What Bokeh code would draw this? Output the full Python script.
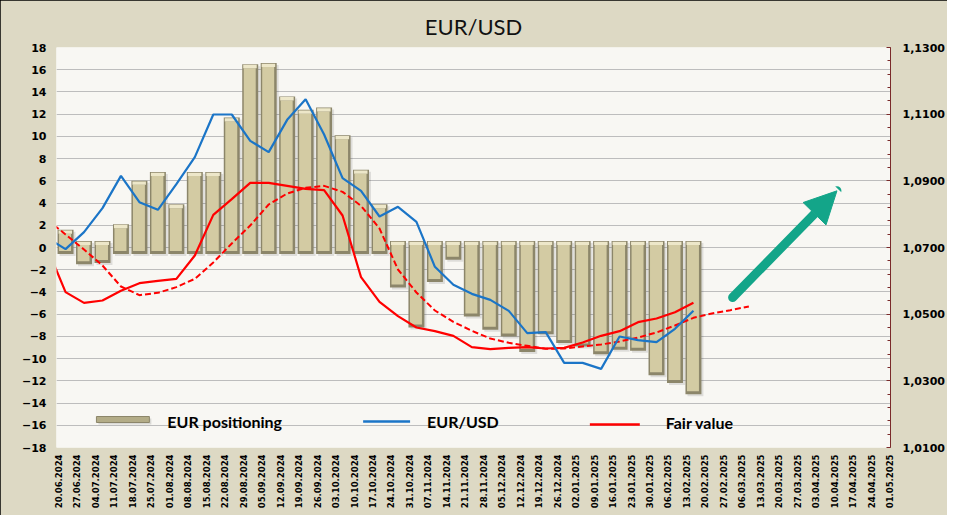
import numpy as np
from bokeh.plotting import figure
from bokeh.models import (Range1d, LinearAxis, FixedTicker, CustomJSTickFormatter,
                          Arrow, NormalHead)
from bokeh.core.properties import value
from bokeh.embed import file_html
from bokeh.resources import INLINE

# ---------------- data ----------------
dates = ["20.06.2024", "27.06.2024", "04.07.2024", "11.07.2024", "18.07.2024", "25.07.2024",
         "01.08.2024", "08.08.2024", "15.08.2024", "22.08.2024", "29.08.2024", "05.09.2024",
         "12.09.2024", "19.09.2024", "26.09.2024", "03.10.2024", "10.10.2024", "17.10.2024",
         "24.10.2024", "31.10.2024", "07.11.2024", "14.11.2024", "21.11.2024", "28.11.2024",
         "05.12.2024", "12.12.2024", "19.12.2024", "26.12.2024", "02.01.2025", "09.01.2025",
         "16.01.2025", "23.01.2025", "30.01.2025", "06.02.2025", "13.02.2025", "20.02.2025",
         "27.02.2025", "06.03.2025", "13.03.2025", "20.03.2025", "27.03.2025", "03.04.2025",
         "10.04.2025", "17.04.2025", "24.04.2025", "01.05.2025"]

# EUR positioning (left axis), one bar per week starting 20.06.2024
positioning = [1.6, -1.5, -1.4, 2.1, 6.0, 6.8, 3.9, 6.8, 6.8, 11.7, 16.5, 16.6, 13.6, 12.4,
               12.6, 10.1, 7.0, 3.9, -3.6, -7.2, -3.1, -1.1, -6.2, -7.4, -8.0, -9.4, -7.8,
               -8.6, -8.9, -9.6, -9.2, -9.3, -11.5, -12.2, -13.2]

# right axis series, starting one week before the first bar (13.06.2024)
eurusd = [1.0729, 1.0695, 1.0746, 1.0818, 1.0915, 1.0836, 1.0813, 1.0890, 1.0971, 1.1099,
          1.1099, 1.1020, 1.0986, 1.1083, 1.1145, 1.1039, 1.0908, 1.0870, 1.0793, 1.0822,
          1.0777, 1.0642, 1.0588, 1.0561, 1.0543, 1.0510, 1.0443, 1.0446, 1.0354, 1.0354,
          1.0336, 1.0433, 1.0422, 1.0416, 1.0456, 1.0510]
fair_value = [1.0700, 1.0566, 1.0534, 1.0541, 1.0570, 1.0593, 1.0600, 1.0606, 1.0676, 1.0798,
              1.0845, 1.0894, 1.0894, 1.0885, 1.0876, 1.0872, 1.0796, 1.0611, 1.0537, 1.0494,
              1.0460, 1.0449, 1.0435, 1.0401, 1.0395, 1.0399, 1.0401, 1.0397, 1.0399, 1.0415,
              1.0435, 1.0449, 1.0476, 1.0487, 1.0506, 1.0534]
fair_trend = [1.0784, 1.0739, 1.0694, 1.0646, 1.0583, 1.0557, 1.0564, 1.0581, 1.0606, 1.0655,
              1.0712, 1.0766, 1.0829, 1.0862, 1.0879, 1.0885, 1.0867, 1.0825, 1.0757, 1.0634,
              1.0565, 1.0511, 1.0477, 1.0450, 1.0427, 1.0414, 1.0405, 1.0396, 1.0397, 1.0403,
              1.0409, 1.0418, 1.0430, 1.0445, 1.0466, 1.0489, 1.0502, 1.0512, 1.0523]

left_ticks = list(range(-18, 19, 2))
right_ticks = [1.01, 1.03, 1.05, 1.07, 1.09, 1.11, 1.13]

# ---------------- layout constants ----------------
W, H = 947, 515
FR_L, FR_T = 56, 47          # frame position (pixels from figure top-left)
FR_W, FR_H = 835, 400
X_START, X_END = -0.11, 45.05
PX_X = FR_W / (X_END - X_START)
PX_Y = FR_H / 36.0
OFFSET = 0.38   # bars / points sit between date ticks
BEVEL = 0.58

GREEN = "#13a589"
BLUE = "#1b75c7"
RED = "#ff0000"

p = figure(width=W, height=H, output_backend="svg", toolbar_location=None,
           x_range=Range1d(X_START, X_END), y_range=Range1d(-18, 18),
           min_border_left=FR_L, min_border_right=W - FR_L - FR_W,
           min_border_top=FR_T, min_border_bottom=H - FR_T - FR_H,
           background_fill_color="#f8f7f3", border_fill_color="#ddd9c4",
           outline_line_color=None,
           styles={"outline": "2px solid #000000", "outline-offset": "-2px"})
p.extra_y_ranges = {"price": Range1d(1.01, 1.13)}

p.title.text = "EUR/USD"
p.title.align = "center"
p.title.offset = -4
p.title.standoff = 16
p.title.text_font = "Lato"
p.title.text_font_size = "22px"
p.title.text_font_style = "normal"
p.title.text_color = "#111111"

# ---------------- axes ----------------
lt = FixedTicker(ticks=left_ticks, minor_ticks=[])
ya = p.yaxis[0]
ya.ticker = lt
ya.axis_line_color = None
ya.major_tick_line_color = None
ya.minor_tick_line_color = None
ya.major_tick_out = 0
ya.major_tick_in = 0
ya.major_label_standoff = 10
ya.major_label_text_font = "DejaVu Sans"
ya.major_label_text_font_style = "bold"
ya.major_label_text_font_size = "11px"
ya.major_label_text_color = "#000000"

xa = p.xaxis[0]
xa.ticker = FixedTicker(ticks=list(range(len(dates))), minor_ticks=[])
xa.formatter = CustomJSTickFormatter(args=dict(labels=dates),
                                     code="const i = Math.round(tick); return (i >= 0 && i < labels.length) ? labels[i] : '';")
xa.major_label_orientation = np.pi / 2
xa.axis_line_color = None
xa.major_tick_line_color = None
xa.minor_tick_line_color = None
xa.major_tick_out = 0
xa.major_tick_in = 0
xa.major_label_standoff = 7
xa.major_label_text_font = "DejaVu Sans"
xa.major_label_text_font_style = "bold"
xa.major_label_text_font_size = "8.5px"
xa.major_label_text_color = "#000000"

minor_r = [round(1.01 + 0.004 * i, 4) for i in range(31)]
ra = LinearAxis(y_range_name="price",
                ticker=FixedTicker(ticks=right_ticks, minor_ticks=minor_r),
                formatter=CustomJSTickFormatter(code="return tick.toFixed(4).replace('.', ',');"),
                axis_line_color="#7a2a2a", axis_line_width=1,
                major_tick_line_color="#7a2a2a", minor_tick_line_color="#7a2a2a",
                major_tick_in=4, major_tick_out=0, minor_tick_in=3, minor_tick_out=0,
                major_label_standoff=12,
                major_label_text_font="DejaVu Sans", major_label_text_font_style="bold",
                major_label_text_font_size="11px", major_label_text_color="#000000")
p.add_layout(ra, "right")

p.xgrid.visible = False
p.ygrid.ticker = lt
p.ygrid.grid_line_color = "#bdbdbd"
p.ygrid.grid_line_width = 1

# ---------------- bars ----------------
pos = np.array(positioning)
kb = np.arange(len(pos)) + OFFSET
top = np.where(pos > 0, pos, BEVEL)
bot = np.where(pos > 0, -BEVEL, pos)
hw = 8.0 / PX_X
p.quad(left=kb - hw + 2 / PX_X, right=kb + hw + 2 / PX_X, top=top - 2 / PX_Y, bottom=bot - 2 / PX_Y,
       fill_color="#000000", fill_alpha=0.10, line_color=None)
p.quad(left=kb - hw, right=kb + hw, top=top, bottom=bot, fill_color="#8c866a", line_color=None)
p.quad(left=kb - hw + 1.5 / PX_X, right=kb + hw - 2.5 / PX_X, top=top - 4 / PX_Y, bottom=bot + 3 / PX_Y,
       fill_color="#d3cba3", line_color=None)
p.quad(left=kb - hw + 1 / PX_X, right=kb + hw - 1.5 / PX_X, top=top - 0.7 / PX_Y, bottom=top - 4 / PX_Y,
       fill_color="#ede7c9", line_color=None)

# ---------------- lines ----------------
kl = np.arange(len(eurusd)) - 1 + OFFSET
kt = np.arange(len(fair_trend)) - 1 + OFFSET
p.line(kt, fair_trend, y_range_name="price", line_color=RED, line_width=2, line_dash="6 3")
p.line(kl, fair_value, y_range_name="price", line_color=RED, line_width=2.2)
p.line(kl, eurusd, y_range_name="price", line_color=BLUE, line_width=2.2)

# ---------------- arrow ----------------
arrow_start = (36.5, -4.5)
arrow_end = (42.15, 5.1)
p.add_layout(Arrow(end=NormalHead(size=32, fill_color=GREEN, line_color=GREEN),
                   x_start=arrow_start[0], y_start=arrow_start[1],
                   x_end=arrow_end[0], y_end=arrow_end[1],
                   line_color=GREEN, line_width=9, line_cap="round"))

# ---------------- legend (drawn) ----------------
def dx(px):
    return X_START + (px - FR_L) / PX_X

def dy(py):
    return 18 - (py - FR_T) / PX_Y

p.quad(left=[dx(98)], right=[dx(151)], top=[dy(418)], bottom=[dy(424)],
       fill_color="#000000", fill_alpha=0.12, line_color=None)
p.quad(left=[dx(96)], right=[dx(149)], top=[dy(416)], bottom=[dy(422)],
       fill_color="#b3ac87", line_color="#8c866a", line_width=1)
p.line([dx(363), dx(410)], [dy(421), dy(421)], line_color=BLUE, line_width=2.5)
p.line([dx(590), dx(640)], [dy(424), dy(424)], line_color=RED, line_width=2.5)
p.text(x=[dx(167), dx(427), dx(666)], y=[dy(421), dy(421), dy(422)],
       text=["EUR positioning", "EUR/USD", "Fair value"],
       text_font=value("Lato"), text_font_style="bold", text_font_size="16px",
       text_baseline="middle", text_align="left", text_color="#000000")

open("out.html", "w").write(file_html(p, INLINE))
